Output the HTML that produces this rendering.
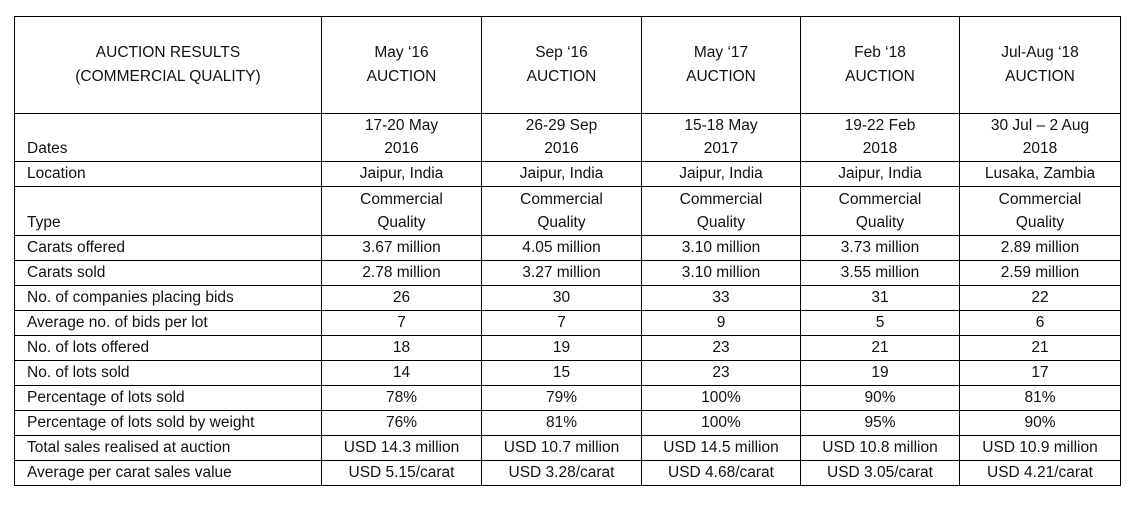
<!DOCTYPE html>
<html><head><meta charset="utf-8"><style>
body{margin:0;background:#fff;width:1136px;height:508px;overflow:hidden}
table{position:absolute;left:14px;top:16px;border-collapse:collapse;table-layout:fixed;font-family:"Liberation Sans",sans-serif;font-size:15.5px;color:#111}
td{border:1.3px solid #000;padding:0 0 1px 0;line-height:22px;vertical-align:bottom;text-align:center;white-space:nowrap;overflow:hidden}
td.l{text-align:left;padding-left:12px}
tr.h td{vertical-align:middle;text-align:center;padding:0;line-height:24px}
tr.two td{line-height:23px}
</style></head><body>
<table>
<colgroup><col style="width:307px"><col style="width:160px"><col style="width:160px"><col style="width:159px"><col style="width:159px"><col style="width:161px"></colgroup>
<tr class="h" style="height:97px"><td>AUCTION RESULTS<br>(COMMERCIAL QUALITY)</td><td>May ‘16<br>AUCTION</td><td>Sep ‘16<br>AUCTION</td><td>May ‘17<br>AUCTION</td><td>Feb ‘18<br>AUCTION</td><td>Jul-Aug ‘18<br>AUCTION</td></tr>
<tr class="two" style="height:48px"><td class="l">Dates</td><td>17-20 May<br>2016</td><td>26-29 Sep<br>2016</td><td>15-18 May<br>2017</td><td>19-22 Feb<br>2018</td><td>30 Jul – 2 Aug<br>2018</td></tr>
<tr style="height:25px"><td class="l">Location</td><td>Jaipur, India</td><td>Jaipur, India</td><td>Jaipur, India</td><td>Jaipur, India</td><td>Lusaka, Zambia</td></tr>
<tr class="two" style="height:49px"><td class="l">Type</td><td>Commercial<br>Quality</td><td>Commercial<br>Quality</td><td>Commercial<br>Quality</td><td>Commercial<br>Quality</td><td>Commercial<br>Quality</td></tr>
<tr style="height:25px"><td class="l">Carats offered</td><td>3.67 million</td><td>4.05 million</td><td>3.10 million</td><td>3.73 million</td><td>2.89 million</td></tr>
<tr style="height:25px"><td class="l">Carats sold</td><td>2.78 million</td><td>3.27 million</td><td>3.10 million</td><td>3.55 million</td><td>2.59 million</td></tr>
<tr style="height:25px"><td class="l">No. of companies placing bids</td><td>26</td><td>30</td><td>33</td><td>31</td><td>22</td></tr>
<tr style="height:25px"><td class="l">Average no. of bids per lot</td><td>7</td><td>7</td><td>9</td><td>5</td><td>6</td></tr>
<tr style="height:25px"><td class="l">No. of lots offered</td><td>18</td><td>19</td><td>23</td><td>21</td><td>21</td></tr>
<tr style="height:25px"><td class="l">No. of lots sold</td><td>14</td><td>15</td><td>23</td><td>19</td><td>17</td></tr>
<tr style="height:25px"><td class="l">Percentage of lots sold</td><td>78%</td><td>79%</td><td>100%</td><td>90%</td><td>81%</td></tr>
<tr style="height:25px"><td class="l">Percentage of lots sold by weight</td><td>76%</td><td>81%</td><td>100%</td><td>95%</td><td>90%</td></tr>
<tr style="height:25px"><td class="l">Total sales realised at auction</td><td>USD 14.3 million</td><td>USD 10.7 million</td><td>USD 14.5 million</td><td>USD 10.8 million</td><td>USD 10.9 million</td></tr>
<tr style="height:25px"><td class="l">Average per carat sales value</td><td>USD 5.15/carat</td><td>USD 3.28/carat</td><td>USD 4.68/carat</td><td>USD 3.05/carat</td><td>USD 4.21/carat</td></tr>
</table>
</body></html>
